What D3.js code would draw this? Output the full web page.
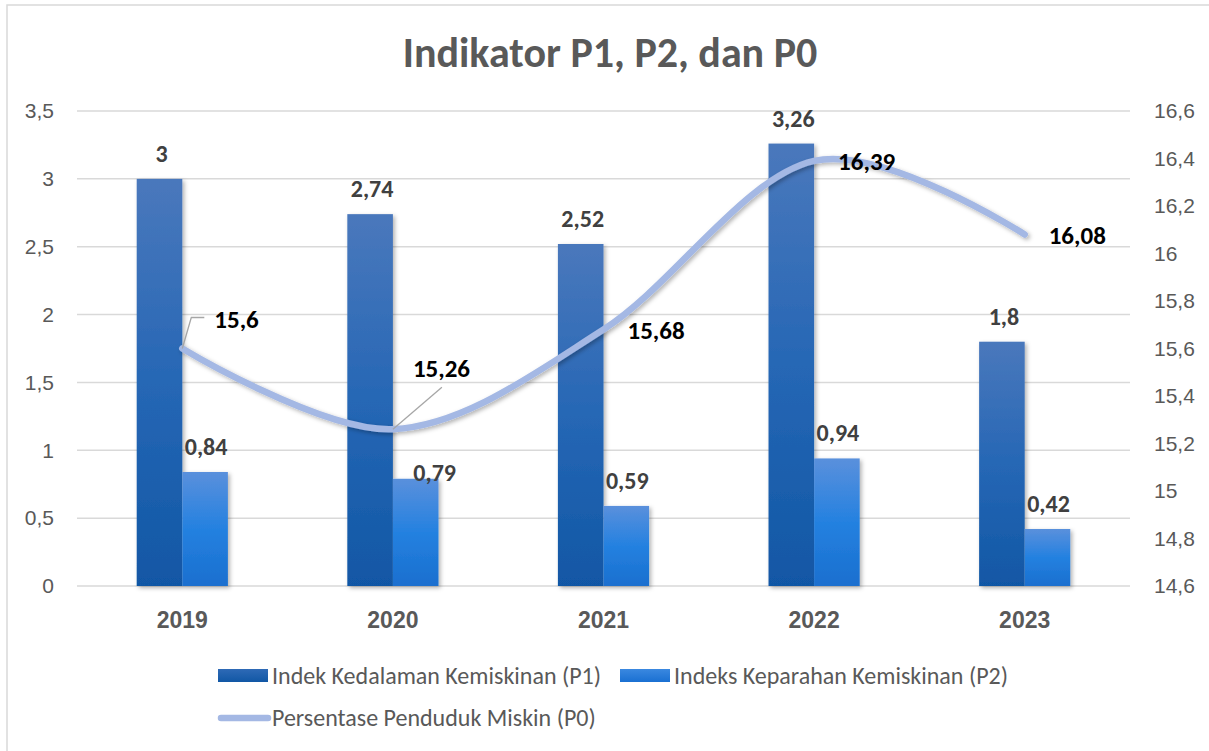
<!DOCTYPE html>
<html>
<head>
<meta charset="utf-8">
<title>Indikator P1, P2, dan P0</title>
<script src="https://d3js.org/d3.v7.min.js"></script>
<style>
    body { margin: 0; background: #fff; }
    svg { display: block; font-family: Carlito, Lato, "Open Sans", sans-serif; }
    .tick-label { fill: #595959; font-size: 21px; }
    .cat-label { fill: #595959; font-size: 23px; font-weight: bold; }
    .bar-label { fill: #404040; font-size: 24px; font-weight: bold; }
    .line-label { fill: #000; font-size: 25px; font-weight: bold; }
    .legend-text { fill: #595959; font-size: 24px; }
</style>
</head>
<body>
<div id="chart"></div>
<script>
// data
const years = ["2019", "2020", "2021", "2022", "2023"];
const p1 = [3, 2.74, 2.52, 3.26, 1.8];
const p2 = [0.84, 0.79, 0.59, 0.94, 0.42];
const p0 = [15.6, 15.26, 15.68, 16.39, 16.08];
const leftTicks = [0, 0.5, 1, 1.5, 2, 2.5, 3, 3.5];
const rightTicks = [14.6, 14.8, 15, 15.2, 15.4, 15.6, 15.8, 16, 16.2, 16.4, 16.6];
const seriesNames = ["Indek Kedalaman Kemiskinan (P1)", "Indeks Keparahan Kemiskinan (P2)", "Persentase Penduduk Miskin (P0)"];
const title = "Indikator P1, P2, dan P0";

const W = 1209, H = 751;
const plot = {left: 77, right: 1130, top: 111, bottom: 586};
const fmt = v => String(v).replace(".", ",");

const svg = d3.select("#chart").append("svg")
    .attr("width", W).attr("height", H);

const defs = svg.append("defs");
function grad(id, stops) {
    const g = defs.append("linearGradient").attr("id", id)
        .attr("x1", 0).attr("y1", 0).attr("x2", 0).attr("y2", 1);
    stops.forEach(s => g.append("stop").attr("offset", s[0]).attr("stop-color", s[1]));
}
grad("gP1", [[0, "#4a78bc"], [0.5, "#2667b5"], [1, "#1157a5"]]);
grad("gP2", [[0, "#5a90dc"], [0.5, "#2481e0"], [1, "#1a6fcf"]]);
grad("gP1leg", [[0, "#2e6ab6"], [1, "#1157a5"]]);
grad("gP2leg", [[0, "#3a88e0"], [1, "#1a70d2"]]);

const shadow = defs.append("filter").attr("id", "shadow")
    .attr("x", "-20%").attr("y", "-20%").attr("width", "150%").attr("height", "150%");
shadow.append("feDropShadow").attr("dx", 2).attr("dy", 2).attr("stdDeviation", 2)
    .attr("flood-color", "#000").attr("flood-opacity", 0.3);

// frame
svg.append("rect").attr("width", W).attr("height", H).attr("fill", "#fff");
svg.append("rect").attr("x", 7).attr("y", 5).attr("width", W + 10).attr("height", H + 10)
    .attr("fill", "none").attr("stroke", "#d9d9d9").attr("stroke-width", 1.5);

// title
svg.append("text").attr("x", 610).attr("y", 67).attr("text-anchor", "middle")
    .attr("fill", "#595959").style("font-size", "42px").style("font-weight", "bold")
    .text(title);

// scales
const x = d3.scaleBand().domain(years).range([plot.left, plot.right]);
const xs = d3.scaleBand().domain(["p1", "p2"]).range([0, x.bandwidth()]).paddingOuter(1.31);
const yL = d3.scaleLinear().domain([0, 3.5]).range([plot.bottom, plot.top]);
const yR = d3.scaleLinear().domain([14.6, 16.6]).range([plot.bottom, plot.top]);

// gridlines
svg.append("g").selectAll("line").data(leftTicks).join("line")
    .attr("x1", plot.left).attr("x2", plot.right)
    .attr("y1", d => yL(d)).attr("y2", d => yL(d))
    .attr("stroke", "#d9d9d9").attr("stroke-width", 1.5);

// left axis labels
const axL = svg.append("g").attr("transform", `translate(${plot.left},0)`)
    .call(d3.axisLeft(yL).tickValues(leftTicks).tickFormat(fmt).tickSize(0).tickPadding(23));
axL.select(".domain").remove();
axL.selectAll("text").attr("class", "tick-label").attr("fill", null).attr("font-size", null).attr("font-family", null);

// right axis labels
const axR = svg.append("g").attr("transform", `translate(${plot.right},0)`)
    .call(d3.axisRight(yR).tickValues(rightTicks).tickFormat(fmt).tickSize(0).tickPadding(24));
axR.select(".domain").remove();
axR.selectAll("text").attr("class", "tick-label").attr("fill", null).attr("font-size", null).attr("font-family", null);

// category labels
const axB = svg.append("g").attr("transform", `translate(0,${plot.bottom})`)
    .call(d3.axisBottom(x).tickSize(0).tickPadding(26));
axB.select(".domain").remove();
axB.selectAll("text").attr("class", "cat-label").attr("fill", null).attr("font-size", null).attr("font-family", null);

// bars
const bars = svg.append("g").attr("filter", "url(#shadow)");
bars.selectAll(".b1").data(p1).join("rect").attr("class", "b1")
    .attr("x", (d, i) => x(years[i]) + xs("p1"))
    .attr("width", xs.bandwidth())
    .attr("y", d => yL(d)).attr("height", d => yL(0) - yL(d))
    .attr("fill", "url(#gP1)");
bars.selectAll(".b2").data(p2).join("rect").attr("class", "b2")
    .attr("x", (d, i) => x(years[i]) + xs("p2"))
    .attr("width", xs.bandwidth())
    .attr("y", d => yL(d)).attr("height", d => yL(0) - yL(d))
    .attr("fill", "url(#gP2)");

// bar labels
svg.append("g").selectAll("text").data(p1).join("text").attr("class", "bar-label")
    .attr("text-anchor", "middle")
    .attr("x", (d, i) => x(years[i]) + xs("p1") + xs.bandwidth() / 2 + 2)
    .attr("y", d => yL(d) - 17)
    .text(fmt);
const p2Shift = {1: [18, 19]}; // label moved to avoid the line label
svg.append("g").selectAll("text").data(p2).join("text").attr("class", "bar-label")
    .attr("text-anchor", "middle")
    .attr("x", (d, i) => x(years[i]) + xs("p2") + xs.bandwidth() / 2 + 1 + (p2Shift[i] ? p2Shift[i][0] : 0))
    .attr("y", (d, i) => yL(d) - 17 + (p2Shift[i] ? p2Shift[i][1] : 0))
    .text(fmt);

// line
const cx = i => x(years[i]) + x.bandwidth() / 2;
const line = d3.line().x((d, i) => cx(i)).y(d => yR(d)).curve(d3.curveCardinal.tension(0));
svg.append("path").datum(p0)
    .attr("d", line)
    .attr("fill", "none").attr("stroke", "#a4b8e4").attr("stroke-width", 6.5)
    .attr("stroke-linecap", "round").attr("filter", "url(#shadow)");

// line labels with leaders
const p0Off = [[32, -21], [20, -52], [24, 9], [24, 9], [24, 9]];
const leaders = [
    [[0, 0], [9, -31], [22, -31]],
    [[0, 0], [49, -42]]
];
leaders.forEach((pts, i) => {
    svg.append("path")
        .attr("d", d3.line()(pts.map(p => [cx(i) + p[0], yR(p0[i]) + p[1]])))
        .attr("fill", "none").attr("stroke", "#a6a6a6").attr("stroke-width", 1.3);
});
svg.append("g").selectAll("text").data(p0).join("text").attr("class", "line-label")
    .attr("x", (d, i) => cx(i) + p0Off[i][0])
    .attr("y", (d, i) => yR(d) + p0Off[i][1])
    .text(fmt);

// legend
const leg = svg.append("g");
const legRows = [
    {x: 218, y: 676, type: "rect", fill: "url(#gP1leg)", name: seriesNames[0]},
    {x: 620, y: 676, type: "rect", fill: "url(#gP2leg)", name: seriesNames[1]},
    {x: 218, y: 718, type: "line", name: seriesNames[2]}
];
legRows.forEach(r => {
    if (r.type === "rect") {
        leg.append("rect").attr("x", r.x).attr("y", r.y - 7).attr("width", 50).attr("height", 13)
            .attr("fill", r.fill);
    } else {
        leg.append("line").attr("x1", r.x + 3).attr("x2", r.x + 50).attr("y1", r.y).attr("y2", r.y)
            .attr("stroke", "#a4b8e4").attr("stroke-width", 6.5).attr("stroke-linecap", "round");
    }
    leg.append("text").attr("class", "legend-text").attr("x", r.x + 54).attr("y", r.y + 8).text(r.name);
});
</script>
</body>
</html>
